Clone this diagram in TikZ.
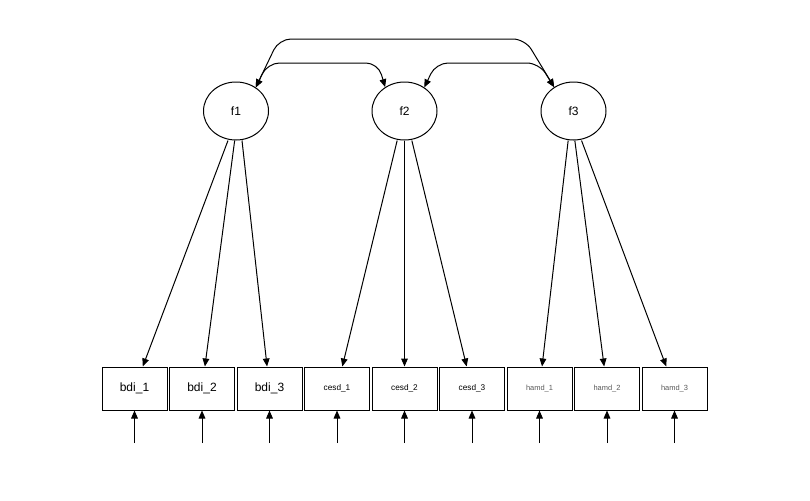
\documentclass[tikz,border=0pt]{standalone}
\usepackage{fontspec}
\setmainfont{Liberation Sans}
\usetikzlibrary{shapes.geometric,arrows.meta}
\begin{document}
\begin{tikzpicture}[x=0.75pt,y=-0.75pt,
  lv/.style={draw,ellipse,line width=0.75pt,minimum width=48.75pt,minimum height=43.5pt,inner sep=0pt,font=\fontsize{9}{10}\selectfont},
  ov/.style={draw,rectangle,line width=0.75pt,minimum width=48.75pt,minimum height=32.25pt,inner sep=0pt},
  fbdi/.style={font=\fontsize{9}{10}\selectfont},
  fcesd/.style={font=\fontsize{6.2}{7}\selectfont},
  fhamd/.style={font=\fontsize{5.6}{6}\selectfont,text=black!65},
  tip/.style={Triangle[length=6pt,width=5pt]},
  load/.style={line width=0.75pt,-{Triangle[length=6pt,width=5pt]}},
  cov/.style={line width=0.75pt,{Triangle[length=6pt,width=5pt]}-{Triangle[length=6pt,width=5pt]},rounded corners=9pt}]
\useasboundingbox (0,0) rectangle (810,500);
% latent variables
\node[lv] (f1) at (236,111) {f1};
\node[lv] (f2) at (404.5,111) {f2};
\node[lv] (f3) at (573.5,111) {f3};
% observed variables
\node[ov,fbdi]  (b1) at (134.5,388.5) {bdi\_1};
\node[ov,fbdi]  (b2) at (202,388.5) {bdi\_2};
\node[ov,fbdi]  (b3) at (269.5,388.5) {bdi\_3};
\node[ov,fcesd] (c1) at (337,388.5) {cesd\_1};
\node[ov,fcesd] (c2) at (404.5,388.5) {cesd\_2};
\node[ov,fcesd] (c3) at (472,388.5) {cesd\_3};
\node[ov,fhamd] (h1) at (539.5,388.5) {hamd\_1};
\node[ov,fhamd] (h2) at (607,388.5) {hamd\_2};
\node[ov,fhamd] (h3) at (674.5,388.5) {hamd\_3};
% loadings
\draw[load] ([xshift=-6pt]f1.south) -- (b1);
\draw[load] ([xshift=-1pt]f1.south) -- (b2);
\draw[load] ([xshift=4.5pt]f1.south) -- (b3);
\draw[load] ([xshift=-5.5pt]f2.south) -- (c1);
\draw[load] (f2.south) -- (c2);
\draw[load] ([xshift=5.5pt]f2.south) -- (c3);
\draw[load] ([xshift=-4pt]f3.south) -- (h1);
\draw[load] ([xshift=1pt]f3.south) -- (h2);
\draw[load] ([xshift=6pt]f3.south) -- (h3);
% error arrows
\foreach \n/\x in {b1/134.5,b2/202,b3/269.5,c1/337,c2/404.5,c3/472,h1/539.5,h2/607,h3/674.5}{
  \coordinate (e\n) at (\x,443);
  \draw[load] (e\n) -- (\n);
}
% covariances
\draw[cov] (f1.50) -- (279,39) -- (525,39) -- (f3.129);
\draw[cov] (f1.50) -- (267.5,63) -- (378,63) -- (f2.129);
\draw[cov] (f2.50) -- (436,63) -- (539,63) -- (f3.129);
\end{tikzpicture}
\end{document}
